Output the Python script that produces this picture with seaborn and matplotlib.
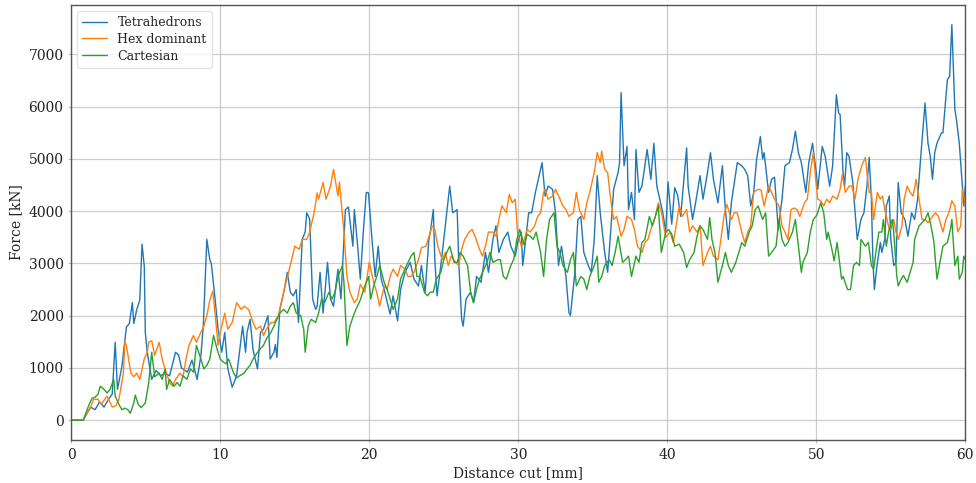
import numpy as np
import pandas as pd
import matplotlib
matplotlib.use("Agg")
import matplotlib.pyplot as plt
import seaborn as sns

series_names = ["Tetrahedrons", "Hex dominant", "Cartesian"]

tet_x = [0.0, 0.8, 1.0, 1.3, 1.6, 1.9, 2.2, 2.5, 2.75, 2.95, 3.1, 3.4, 3.7, 3.9, 4.1, 4.2, 4.4, 4.6, 4.75, 4.9, 4.97, 5.1, 5.4, 5.7, 6.0, 6.3, 6.6, 7.0, 7.2, 7.4, 7.8, 8.1, 8.45, 8.7, 8.86, 9.1, 9.3, 9.4, 9.66, 9.85, 10.1, 10.3, 10.5, 10.8, 11.1, 11.5, 11.7, 11.8, 12.0, 12.2, 12.5, 12.7, 12.9, 13.2, 13.35, 13.6, 13.7, 13.8, 14.0, 14.3, 14.5, 14.7, 14.9, 15.1, 15.25, 15.5, 15.7, 15.8, 16.0, 16.2, 16.4, 16.5, 16.7, 16.9, 17.2, 17.4, 17.6, 17.9, 18.1, 18.4, 18.6, 18.9, 19.0, 19.2, 19.4, 19.6, 19.8, 19.95, 20.2, 20.4, 20.6, 20.8, 21.0, 21.4, 21.6, 21.9, 22.1, 22.4, 22.75, 23.0, 23.3, 23.5, 23.75, 24.0, 24.1, 24.3, 24.4, 24.55, 24.8, 25.0, 25.4, 25.6, 25.9, 26.0, 26.2, 26.3, 26.5, 26.8, 27.0, 27.2, 27.5, 27.8, 28.0, 28.3, 28.5, 28.7, 29.0, 29.3, 29.5, 29.8, 30.0, 30.2, 30.3, 30.7, 30.9, 31.15, 31.4, 31.6, 31.8, 32.0, 32.3, 32.5, 32.7, 32.9, 33.2, 33.4, 33.5, 33.8, 34.0, 34.2, 34.4, 34.7, 34.9, 35.1, 35.3, 35.5, 35.8, 36.0, 36.2, 36.4, 36.7, 36.8, 36.9, 37.1, 37.3, 37.4, 37.6, 37.8, 37.9, 38.1, 38.3, 38.65, 38.9, 39.1, 39.3, 39.5, 39.7, 39.9, 40.05, 40.3, 40.5, 40.7, 40.9, 41.3, 41.4, 41.7, 41.9, 42.2, 42.4, 42.7, 42.9, 43.1, 43.4, 43.7, 43.9, 44.1, 44.3, 44.7, 45.0, 45.2, 45.4, 45.6, 45.8, 46.0, 46.25, 46.4, 46.5, 46.8, 47.0, 47.2, 47.45, 47.7, 47.9, 48.2, 48.4, 48.6, 48.8, 49.0, 49.3, 49.5, 49.75, 50.0, 50.1, 50.4, 50.6, 50.9, 51.1, 51.35, 51.5, 51.6, 51.8, 51.9, 52.05, 52.2, 52.45, 52.75, 53.0, 53.2, 53.4, 53.55, 53.7, 53.8, 53.9, 54.05, 54.3, 54.4, 54.6, 54.7, 54.9, 55.0, 55.2, 55.35, 55.5, 55.7, 55.95, 56.15, 56.4, 56.6, 56.8, 57.0, 57.3, 57.5, 57.65, 57.8, 57.95, 58.1, 58.4, 58.5, 58.8, 58.95, 59.1, 59.3, 59.4, 59.6, 59.8, 59.9, 60.0]
tet_y = [0, 0, 100, 250, 200, 350, 250, 400, 500, 1490, 590, 1030, 1780, 1850, 2250, 1850, 2120, 2300, 3370, 2950, 1680, 1300, 780, 950, 850, 900, 850, 1300, 1250, 1000, 920, 1150, 780, 1230, 1800, 3460, 3070, 3000, 2300, 1750, 1300, 1680, 1000, 630, 850, 1800, 1300, 1680, 1930, 1350, 980, 1680, 1740, 2000, 1170, 1300, 1450, 1200, 2120, 2500, 2830, 2450, 2380, 2500, 1870, 3460, 3600, 3970, 3850, 2320, 2120, 2180, 2830, 2050, 3020, 2320, 2180, 2890, 2320, 4030, 4080, 3330, 4030, 3400, 2700, 3600, 4360, 4350, 3400, 2750, 3330, 2700, 2500, 2030, 2380, 1900, 2500, 2830, 3020, 2700, 2570, 2960, 2440, 3460, 3600, 4030, 3070, 2380, 2960, 3460, 4480, 3970, 4030, 3070, 1930, 1800, 2320, 2450, 2250, 2750, 2640, 3210, 2830, 3460, 3720, 3210, 3460, 3600, 3330, 3140, 3460, 3600, 2960, 3970, 3970, 4360, 4680, 4930, 4290, 4480, 4420, 3970, 2960, 3330, 2750, 2060, 2000, 2830, 3840, 3900, 3210, 2960, 2830, 3460, 4680, 3970, 3210, 2830, 3600, 4420, 4740, 4930, 6270, 4870, 5240, 4030, 4360, 3840, 5180, 4360, 4480, 5180, 4610, 5300, 4480, 4230, 3970, 3600, 4560, 3750, 4450, 4300, 3900, 5210, 4480, 3840, 4160, 4680, 4230, 4740, 5120, 4610, 4160, 4870, 4030, 3460, 4160, 4930, 4870, 4800, 4680, 4100, 4360, 5000, 5430, 5000, 5120, 4360, 4610, 4650, 3650, 4230, 4870, 4930, 5180, 5530, 5120, 4930, 4360, 4930, 5300, 4740, 4420, 5240, 5050, 4480, 4870, 6230, 5880, 5850, 4740, 4480, 5120, 5050, 4550, 3460, 3840, 3970, 4480, 5030, 4230, 3070, 2500, 2900, 3400, 3210, 3460, 4100, 4290, 3460, 2960, 3020, 4550, 3970, 3840, 3520, 3970, 3840, 4230, 5000, 6070, 5300, 5050, 4610, 5120, 5300, 5500, 5500, 6520, 6580, 7570, 5950, 5770, 5300, 4480, 4100, 4480]

hex_x = [0.0, 0.8, 1.0, 1.3, 1.5, 1.8, 2.0, 2.4, 2.75, 3.0, 3.2, 3.5, 3.6, 3.7, 4.0, 4.2, 4.4, 4.6, 4.9, 5.1, 5.2, 5.4, 5.6, 5.9, 6.1, 6.3, 6.6, 6.8, 7.0, 7.3, 7.5, 7.7, 7.9, 8.2, 8.4, 8.7, 8.9, 9.1, 9.3, 9.5, 9.7, 9.85, 10.0, 10.3, 10.5, 10.8, 11.1, 11.4, 11.6, 11.9, 12.2, 12.4, 12.7, 12.9, 13.1, 13.4, 13.6, 13.9, 14.1, 14.35, 14.7, 15.0, 15.3, 15.5, 15.8, 16.0, 16.3, 16.5, 16.6, 16.9, 17.1, 17.4, 17.6, 17.9, 18.0, 18.3, 18.5, 18.7, 19.0, 19.2, 19.4, 19.7, 20.0, 20.3, 20.5, 20.7, 21.0, 21.2, 21.4, 21.6, 21.9, 22.1, 22.4, 22.6, 22.8, 23.0, 23.3, 23.5, 23.8, 24.1, 24.2, 24.4, 24.6, 24.9, 25.1, 25.3, 25.5, 25.8, 26.0, 26.2, 26.4, 26.7, 26.9, 27.1, 27.4, 27.6, 27.8, 28.0, 28.3, 28.5, 28.7, 28.9, 29.2, 29.4, 29.6, 29.8, 29.95, 30.2, 30.4, 30.6, 30.8, 31.1, 31.3, 31.5, 31.7, 31.8, 32.0, 32.3, 32.5, 32.7, 33.0, 33.2, 33.4, 33.7, 33.9, 34.1, 34.4, 34.6, 34.8, 35.1, 35.3, 35.5, 35.6, 35.8, 36.0, 36.2, 36.4, 36.6, 36.9, 37.1, 37.3, 37.6, 37.8, 38.0, 38.3, 38.5, 38.7, 38.9, 39.2, 39.4, 39.6, 39.9, 40.2, 40.4, 40.6, 40.8, 41.0, 41.3, 41.5, 41.7, 42.0, 42.2, 42.4, 42.7, 42.9, 43.1, 43.4, 43.6, 43.8, 44.0, 44.3, 44.5, 44.7, 45.0, 45.2, 45.4, 45.6, 45.8, 46.1, 46.3, 46.5, 46.8, 47.0, 47.2, 47.5, 47.7, 47.9, 48.1, 48.3, 48.5, 48.7, 48.9, 49.2, 49.4, 49.6, 49.8, 50.0, 50.1, 50.3, 50.5, 50.7, 50.9, 51.1, 51.4, 51.6, 51.75, 51.95, 52.2, 52.4, 52.6, 52.8, 53.05, 53.3, 53.4, 53.55, 53.7, 53.85, 54.0, 54.1, 54.3, 54.45, 54.6, 54.9, 55.0, 55.2, 55.35, 55.5, 55.75, 55.9, 56.1, 56.3, 56.5, 56.7, 56.9, 57.1, 57.3, 57.5, 57.8, 58.0, 58.2, 58.5, 58.7, 58.9, 59.1, 59.3, 59.5, 59.7, 59.8, 60.0]
hex_y = [0, 0, 100, 250, 400, 400, 300, 460, 250, 280, 400, 900, 1500, 1430, 900, 830, 900, 780, 1170, 1300, 1490, 1520, 1240, 1490, 1170, 980, 720, 650, 780, 900, 830, 1170, 1430, 1620, 1490, 1680, 1800, 2000, 2300, 2470, 1900, 1430, 1680, 2050, 1740, 1870, 2250, 2120, 2180, 2120, 1870, 1740, 1800, 1620, 1740, 1870, 1870, 2000, 2250, 2570, 2960, 3330, 3270, 3460, 3460, 3600, 3970, 4350, 4230, 4550, 4230, 4480, 4800, 4290, 4560, 3600, 2750, 2450, 2250, 2320, 2600, 2450, 3020, 2640, 2450, 2180, 2570, 2500, 2750, 2890, 2750, 2960, 2890, 2750, 2750, 2830, 3070, 3300, 3330, 3600, 3720, 3650, 3330, 3070, 3210, 2960, 3140, 3020, 2960, 3270, 3460, 3600, 3650, 3520, 3270, 3140, 3330, 3600, 3600, 3520, 3840, 4100, 3970, 4320, 4160, 4230, 3600, 3330, 3460, 3650, 3600, 3720, 3900, 3970, 4360, 4420, 4230, 4290, 4420, 4290, 4100, 4030, 3900, 3970, 4360, 4030, 3840, 4160, 4360, 4740, 5120, 4930, 5150, 4800, 4740, 4230, 3840, 3900, 3520, 3650, 3900, 3840, 3650, 3330, 3210, 3400, 3460, 3650, 3900, 4160, 4000, 3500, 3600, 3400, 3720, 4100, 3900, 4030, 3600, 3720, 3600, 3720, 2960, 3210, 3330, 3140, 3070, 3460, 3900, 4130, 3840, 3970, 3970, 3600, 3400, 3600, 3720, 4360, 4420, 4400, 4100, 4480, 4360, 4230, 4100, 3720, 3600, 3460, 4030, 4060, 4030, 3900, 4160, 4230, 4740, 5120, 4500, 4230, 4200, 4100, 4230, 4160, 4290, 4230, 4420, 4700, 4360, 4480, 4480, 4230, 4610, 4870, 5030, 4740, 4360, 4360, 3840, 4160, 4360, 4230, 4290, 4030, 3650, 3650, 3840, 3600, 3460, 3720, 4230, 4480, 4360, 4290, 4610, 4230, 3840, 3840, 3780, 3900, 3970, 3900, 3600, 3840, 3970, 4200, 4100, 3600, 3720, 4420, 4160]

cart_x = [0.0, 0.8, 1.0, 1.2, 1.4, 1.6, 1.8, 1.95, 2.2, 2.4, 2.6, 2.85, 2.95, 3.2, 3.4, 3.6, 3.8, 3.96, 4.2, 4.3, 4.5, 4.7, 4.97, 5.2, 5.4, 5.6, 5.9, 6.1, 6.3, 6.4, 6.6, 6.9, 7.1, 7.3, 7.5, 7.76, 8.0, 8.2, 8.4, 8.7, 8.9, 9.1, 9.3, 9.55, 9.8, 10.0, 10.2, 10.4, 10.56, 10.9, 11.1, 11.3, 11.6, 11.8, 12.0, 12.2, 12.5, 12.7, 12.9, 13.1, 13.4, 13.6, 13.8, 14.0, 14.25, 14.5, 14.7, 14.9, 15.1, 15.4, 15.6, 15.7, 15.9, 16.1, 16.4, 16.6, 16.8, 17.0, 17.3, 17.5, 17.7, 17.9, 18.2, 18.3, 18.5, 18.7, 19.0, 19.2, 19.4, 19.7, 19.96, 20.1, 20.3, 20.5, 20.7, 21.0, 21.2, 21.4, 21.6, 21.9, 22.1, 22.3, 22.5, 22.8, 23.0, 23.2, 23.4, 23.7, 23.9, 24.1, 24.3, 24.5, 24.8, 25.0, 25.2, 25.4, 25.7, 25.9, 26.1, 26.3, 26.6, 26.8, 27.0, 27.2, 27.4, 27.7, 27.9, 28.1, 28.3, 28.6, 28.8, 29.0, 29.2, 29.5, 29.7, 29.9, 30.1, 30.4, 30.6, 30.8, 31.0, 31.2, 31.5, 31.7, 31.9, 32.1, 32.4, 32.6, 32.8, 33.0, 33.3, 33.5, 33.7, 33.9, 34.2, 34.4, 34.6, 34.8, 35.1, 35.3, 35.4, 35.6, 35.8, 36.1, 36.3, 36.5, 36.7, 37.0, 37.2, 37.4, 37.6, 37.9, 38.1, 38.3, 38.5, 38.8, 39.0, 39.2, 39.4, 39.6, 39.9, 40.1, 40.3, 40.5, 40.8, 41.1, 41.3, 41.5, 41.8, 42.0, 42.2, 42.4, 42.7, 42.85, 43.0, 43.2, 43.4, 43.7, 43.9, 44.1, 44.3, 44.6, 44.8, 45.0, 45.2, 45.5, 45.7, 45.9, 46.1, 46.4, 46.6, 46.8, 47.0, 47.3, 47.5, 47.7, 47.9, 48.1, 48.4, 48.6, 48.8, 49.0, 49.1, 49.4, 49.6, 49.8, 50.05, 50.3, 50.5, 50.7, 50.8, 51.05, 51.2, 51.4, 51.7, 51.8, 52.1, 52.3, 52.5, 52.7, 52.9, 53.0, 53.3, 53.5, 53.7, 53.85, 54.0, 54.2, 54.4, 54.5, 54.7, 54.85, 55.1, 55.2, 55.4, 55.5, 55.7, 55.85, 56.1, 56.3, 56.5, 56.6, 56.9, 57.1, 57.3, 57.5, 57.7, 57.9, 58.1, 58.3, 58.5, 58.8, 59.0, 59.1, 59.3, 59.5, 59.6, 59.8, 59.9, 60.0]
cart_y = [0, 0, 150, 300, 420, 440, 500, 650, 590, 520, 590, 780, 460, 300, 200, 230, 200, 130, 330, 480, 300, 240, 330, 720, 1300, 830, 900, 780, 980, 590, 780, 650, 720, 650, 850, 780, 980, 920, 1430, 1170, 980, 1050, 1170, 1620, 1350, 1170, 1110, 1080, 1170, 900, 810, 850, 900, 980, 1050, 1170, 1300, 1370, 1430, 1560, 1680, 1800, 1930, 2050, 2120, 2050, 2180, 2250, 2050, 2000, 1740, 1300, 1800, 1930, 1870, 2050, 2320, 2250, 2450, 2320, 2450, 2750, 2960, 2640, 1430, 1800, 2050, 2180, 2300, 2570, 2750, 2320, 2570, 2750, 2960, 2640, 2500, 2320, 2120, 2320, 2700, 2830, 2960, 3140, 3210, 2750, 2750, 2450, 2380, 2450, 2450, 2700, 2830, 3070, 3210, 3330, 3020, 3020, 3210, 3140, 2960, 2450, 2250, 2500, 2700, 2890, 3020, 3210, 3020, 3070, 3070, 2750, 2700, 2960, 3080, 3450, 3650, 3350, 3560, 3520, 3460, 3600, 3210, 2750, 3460, 3840, 3970, 3330, 3210, 2960, 2830, 3070, 3210, 2570, 2750, 2700, 2500, 2750, 2960, 3140, 2640, 2750, 2960, 3070, 2960, 3210, 3520, 3020, 3070, 3140, 2750, 3140, 3020, 3400, 3460, 3900, 3720, 3900, 4100, 3210, 3600, 3650, 3560, 3330, 3370, 3210, 2920, 3070, 3210, 3520, 3720, 3650, 3460, 3880, 3460, 3210, 2640, 2960, 3210, 2960, 2830, 3020, 3210, 3400, 3330, 3600, 3720, 4030, 4100, 3840, 3970, 3140, 3210, 3330, 3840, 3460, 3330, 3400, 3600, 3840, 3330, 2830, 3020, 3210, 3600, 3840, 3930, 4160, 3970, 3460, 3600, 3270, 3050, 3400, 2700, 2750, 2500, 2500, 2960, 3020, 2960, 3460, 3330, 3400, 2960, 2890, 3210, 3600, 3600, 3840, 3330, 3600, 3840, 3600, 2770, 2570, 2700, 2770, 2640, 2830, 3020, 3460, 3720, 3780, 3840, 3970, 3720, 3400, 2700, 3020, 3330, 3400, 3650, 3840, 2960, 3140, 2700, 2830, 3140, 3070]

frames = []
for name, xs, ys in zip(series_names, [tet_x, hex_x, cart_x], [tet_y, hex_y, cart_y]):
    frames.append(pd.DataFrame({"Distance cut [mm]": xs, "Force [kN]": ys, "Mesh": name}))
df = pd.concat(frames, ignore_index=True)

sns.set_theme(style="whitegrid")
plt.rcParams["font.family"] = ["DejaVu Serif"]

fig, ax = plt.subplots(figsize=(9.76, 4.83), dpi=100)
sns.lineplot(data=df, x="Distance cut [mm]", y="Force [kN]", hue="Mesh",
             hue_order=series_names, palette=["#1f77b4", "#ff7f0e", "#2ca02c"],
             estimator=None, sort=False, linewidth=1.0, ax=ax)

ax.set_xlim(0, 60)
ax.set_ylim(-380, 7950)
ax.set_xticks([0, 10, 20, 30, 40, 50, 60])
ax.set_yticks([0, 1000, 2000, 3000, 4000, 5000, 6000, 7000])
ax.tick_params(labelsize=10, labelcolor="#222222", color="#bbbbbb",
               length=2.5, width=0.8, pad=3, bottom=True, left=True)
ax.set_xlabel("Distance cut [mm]", fontsize=10, color="#222222", labelpad=3)
ax.set_ylabel("Force [kN]", fontsize=10, color="#222222", labelpad=4)
ax.grid(True, color="#cccccc", linewidth=0.9)
for sp in ax.spines.values():
    sp.set_color("#555555")
    sp.set_linewidth(1.0)

leg = ax.legend(loc="upper left", fontsize=9, frameon=True, handlelength=2.0,
                borderaxespad=0.5, labelspacing=0.3)
leg.get_frame().set_edgecolor("#dddddd")

fig.subplots_adjust(left=0.073, right=0.989, top=0.99, bottom=0.089)
fig.savefig("out.png", dpi=100)
